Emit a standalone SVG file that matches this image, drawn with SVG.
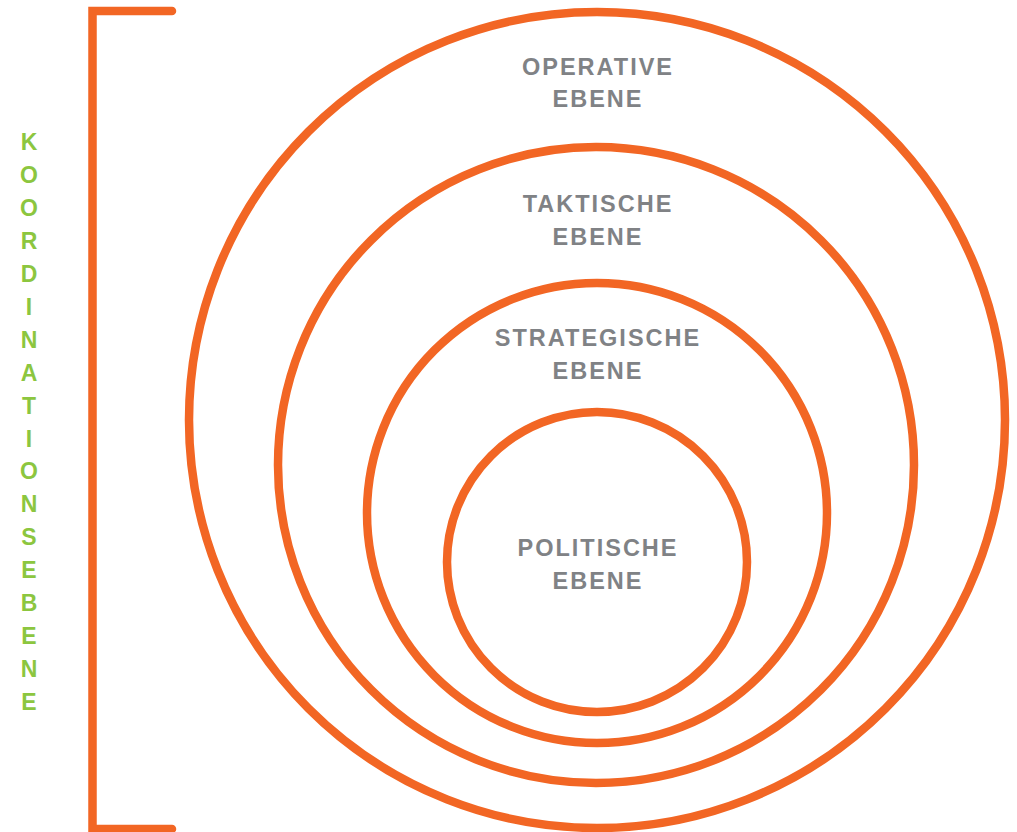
<svg xmlns="http://www.w3.org/2000/svg" width="1017" height="832" viewBox="0 0 1017 832">
<style>
.ring{fill:none;stroke:#F26624;stroke-width:8.5}
.lbl{font-family:"Liberation Sans",Arial,sans-serif;font-weight:700;font-size:23.5px;fill:#808285;letter-spacing:2px;text-anchor:middle}
.side{font-family:"Liberation Sans",Arial,sans-serif;font-weight:700;font-size:23px;fill:#8CC63F;text-anchor:middle}
</style>
<rect width="1017" height="832" fill="#fff"/>
<g id="bracket">
<path d="M172,11 H92.5 V829 H172" fill="none" stroke="#F26624" stroke-width="8.5" stroke-linecap="round" stroke-linejoin="miter"/>
</g>
<g id="operative">
<circle class="ring" cx="597" cy="420" r="408"/>
<text class="lbl" x="598" y="75">OPERATIVE</text>
<text class="lbl" x="598" y="107">EBENE</text>
</g>
<g id="taktische">
<circle class="ring" cx="596" cy="465" r="318"/>
<text class="lbl" x="598" y="212">TAKTISCHE</text>
<text class="lbl" x="598" y="245">EBENE</text>
</g>
<g id="strategische">
<circle class="ring" cx="597" cy="513" r="230"/>
<text class="lbl" x="598" y="346">STRATEGISCHE</text>
<text class="lbl" x="598" y="379">EBENE</text>
</g>
<g id="politische">
<circle class="ring" cx="597" cy="562" r="150"/>
<text class="lbl" x="598" y="556">POLITISCHE</text>
<text class="lbl" x="598" y="589">EBENE</text>
</g>
<g id="koordinationsebene">
<text class="side" x="29" y="150">K</text>
<text class="side" x="29" y="183">O</text>
<text class="side" x="29" y="216">O</text>
<text class="side" x="29" y="249">R</text>
<text class="side" x="29" y="282">D</text>
<text class="side" x="29" y="315">I</text>
<text class="side" x="29" y="348">N</text>
<text class="side" x="29" y="381">A</text>
<text class="side" x="29" y="414">T</text>
<text class="side" x="29" y="447">I</text>
<text class="side" x="29" y="479">O</text>
<text class="side" x="29" y="512">N</text>
<text class="side" x="29" y="545">S</text>
<text class="side" x="29" y="578">E</text>
<text class="side" x="29" y="611">B</text>
<text class="side" x="29" y="644">E</text>
<text class="side" x="29" y="677">N</text>
<text class="side" x="29" y="710">E</text>
</g>
</svg>
